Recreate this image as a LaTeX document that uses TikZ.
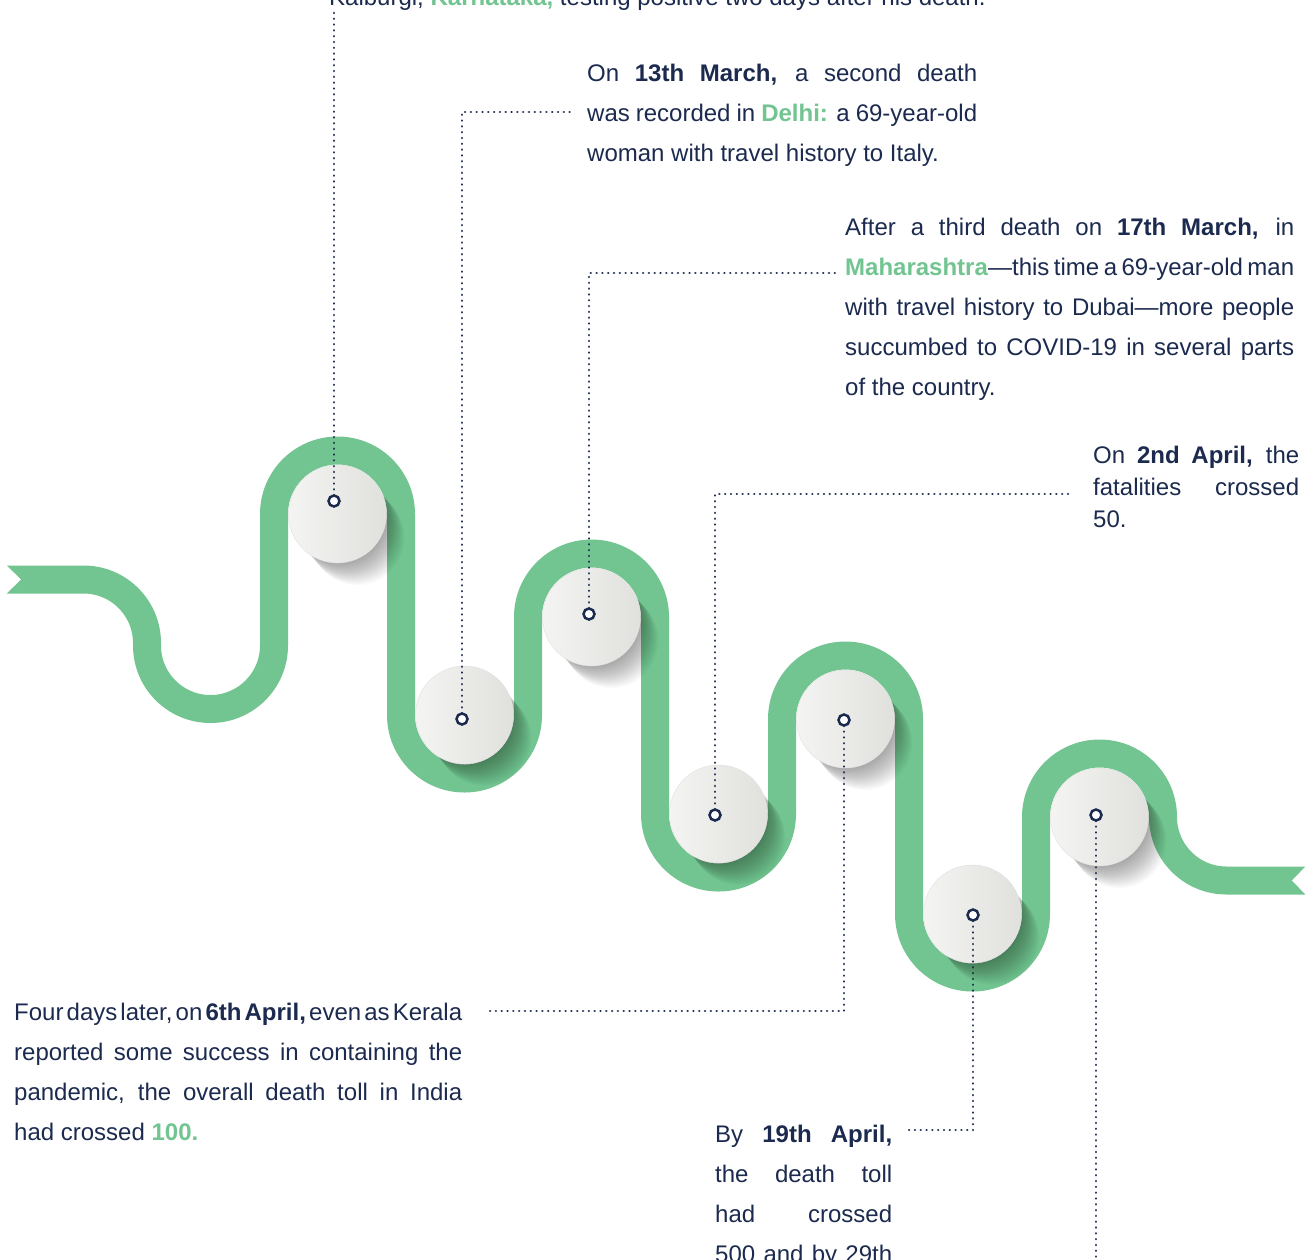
\documentclass[tikz,border=0pt]{standalone}
\usepackage{fontspec}
\setmainfont{Liberation Sans}
\definecolor{rib}{HTML}{72C590}
\definecolor{navy}{HTML}{1B2A4E}
\definecolor{discL}{HTML}{F4F5F2}
\definecolor{discR}{HTML}{E0E0DD}
\newcommand\jline[1]{\makebox[\linewidth][s]{#1}\par}
\newcommand\lline[1]{\makebox[\linewidth][l]{#1}\par}
\newcommand\dt[1]{\textbf{#1}}
\newcommand\gr[1]{\textcolor{rib}{\textbf{#1}}}
\tikzset{
  ribbon/.style={draw=rib, line width=28pt},
  disc/.style={circle, minimum size=98pt, inner sep=0pt, left color=discL, right color=discR, draw=black!12, line width=0.4pt},
  marker/.style={circle, minimum size=11pt, inner sep=0pt, draw=navy, line width=2.5pt, fill=white},
  conn/.style={draw=navy, line width=2.6pt, line cap=round, dash pattern=on 0.01pt off 5.8pt},
  para/.style={anchor=base west, inner sep=0pt, font=\fontsize{24}{40}\selectfont, text=navy},
}
\begin{document}
\begin{tikzpicture}[x=1pt,y=1pt]
\useasboundingbox (0,-1259) rectangle (1313,0);
\clip (0,-1259) rectangle (1313,0);
\fill[white] (0,-1259) rectangle (1313,0);
% ribbon
\draw[ribbon] (7,-579.5) -- (83.5,-579.5) arc[start angle=90, end angle=0, radius=63.5]
  -- (147,-645.5) arc[start angle=180, end angle=360, radius=63.5]
  -- (274,-514) arc[start angle=180, end angle=0, radius=63.5]
  -- (401,-715) arc[start angle=180, end angle=360, radius=63.5]
  -- (528,-617) arc[start angle=180, end angle=0, radius=63.5]
  -- (655,-814) arc[start angle=180, end angle=360, radius=63.5]
  -- (782,-719) arc[start angle=180, end angle=0, radius=63.5]
  -- (909,-914) arc[start angle=180, end angle=360, radius=63.5]
  -- (1036,-817) arc[start angle=180, end angle=0, radius=63.5]
  arc[start angle=180, end angle=270, radius=63.5]
  -- (1305,-880.5);
\fill[white] (6,-565) -- (21,-579.5) -- (6,-594) -- cycle;
\fill[white] (1306,-866) -- (1292,-880.5) -- (1306,-895) -- cycle;
% shadows and discs
\foreach \n/\cx/\cy in {1/337.5/514, 2/464.5/715, 3/591.5/617, 4/718.5/814, 5/845.5/719, 6/972.5/914, 7/1099.5/817}{
  \foreach \k in {1,...,20}{
    \fill[black, opacity=0.02] (\cx+1.0*\k,-\cy-1.2*\k) circle[radius=47];
  }
  \node[disc] (d\n) at (\cx,-\cy) {};
}
% marker positions
\coordinate (p1) at (334,-501);
\coordinate (p2) at (462,-719);
\coordinate (p3) at (589,-614);
\coordinate (p4) at (715,-815);
\coordinate (p5) at (844,-720);
\coordinate (p6) at (973,-915);
\coordinate (p7) at (1096,-815);
% connector ends
\coordinate (c1) at (334,-10);
\coordinate (e2) at (572,-112);
\coordinate (e3) at (836,-273);
\coordinate (e4) at (1072,-494);
\coordinate (e5) at (486,-1011);
\coordinate (e6) at (905,-1130);
\coordinate (c7) at (1096,-1262);
\draw[conn] (p1) -- (c1);
\draw[conn] (p2) |- (e2);
\draw[conn] (p3) |- (e3);
\draw[conn] (p4) |- (e4);
\draw[conn] (p5) |- (e5);
\draw[conn] (p6) |- (e6);
\draw[conn] (p7) -- (c7);
\foreach \n in {1,...,7}{ \node[marker] (m\n) at (p\n) {}; }
% texts
\node[para] (t0) at (329,-5) {Kalburgi, \gr{Karnataka,} testing positive two days after his death.};
\node[para] (t1) at (587,-81) {\parbox[t]{390pt}{%
  \jline{On \dt{13th March,} a second death}%
  \jline{was recorded in \gr{Delhi:} a 69-year-old}%
  \lline{woman with travel history to Italy.}}};
\node[para] (t2) at (845,-235) {\parbox[t]{449pt}{%
  \jline{After a third death on \dt{17th March,} in}%
  \jline{\gr{Maharashtra}\textemdash this time a 69-year-old man}%
  \jline{with travel history to Dubai\textemdash more people}%
  \jline{succumbed to COVID-19 in several parts}%
  \lline{of the country.}}};
\node[para, font=\fontsize{24}{32}\selectfont] (t3) at (1093,-463) {\parbox[t]{206pt}{%
  \jline{On \dt{2nd April,} the}%
  \jline{fatalities crossed}%
  \lline{50.}}};
\node[para] (t4) at (14,-1020) {\parbox[t]{448pt}{%
  {\spaceskip=0.12em plus 1em\jline{Four days later, on \dt{6th April,} even as Kerala}}%
  \jline{reported some success in containing the}%
  \jline{pandemic, the overall death toll in India}%
  \lline{had crossed \gr{100.}}}};
\node[para] (t5) at (715,-1142) {\parbox[t]{177pt}{%
  \jline{By \dt{19th April,}}%
  \jline{the death toll}%
  \jline{had crossed}%
  \jline{500 and by 29th}}};
\end{tikzpicture}
\end{document}
